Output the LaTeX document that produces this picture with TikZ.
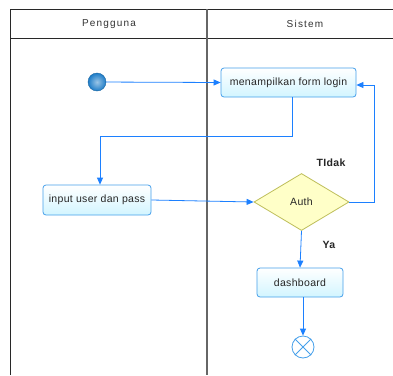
\documentclass[tikz,border=0pt]{standalone}
\usepackage{fontspec}
\setmainfont{Liberation Sans}[LetterSpace=3]
\usetikzlibrary{arrows.meta,shapes.geometric}
\definecolor{flow}{RGB}{28,128,255}
\definecolor{boxline}{RGB}{70,160,235}
\definecolor{boxfill}{RGB}{210,245,255}
\definecolor{glowc}{RGB}{200,232,255}
\definecolor{decline}{RGB}{190,190,90}
\definecolor{decfill}{RGB}{255,255,200}
\definecolor{lane}{RGB}{40,40,40}
\definecolor{startc}{RGB}{30,125,200}
\tikzset{
  actbox/.style={draw=boxline, line width=0.8pt, rounded corners=3pt,
    top color=white, bottom color=boxfill, text=black!85,
    font=\fontsize{10.5}{12}\selectfont, inner sep=0pt},
  decbox/.style={diamond, draw=decline, line width=0.8pt, fill=decfill,
    aspect=1.67, minimum width=95pt, minimum height=57pt, inner sep=0pt,
    font=\fontsize{10.5}{12}\selectfont, text=black!85},
  flowline/.style={draw=flow, line width=0.8pt,
    -{Triangle[length=7pt,width=6pt]}},
  guard/.style={font=\bfseries\fontsize{10.5}{12}\selectfont, text=black!85},
  header/.style={font=\fontsize{10}{12}\selectfont\addfontfeature{LetterSpace=12}, text=black!80}
}
% soft halo behind a region: stacked translucent rectangles
\newcommand{\halo}[4]{%
  \foreach \k in {0,...,7}{
    \fill[glowc, opacity=0.18]
      ({#1+\k*3pt},{#2+\k*3pt}) rectangle ({#3-\k*3pt},{#4-\k*3pt});
  }}
\begin{document}
\begin{tikzpicture}[x=1pt,y=-1pt]
\useasboundingbox (0,0) rectangle (393,375);
\fill[white] (0,0) rectangle (393,375);
\begin{scope}
\clip (0,0) rectangle (393,375);
% halos
\halo{38}{55}{185}{320}
\halo{215}{85}{385}{250}
\halo{235}{245}{380}{325}
% swimlane frame
\draw[lane, line width=0.7pt] (10,375) -- (10,9) -- (400,9);
\draw[lane, line width=0.7pt] (10,38) -- (400,38);
\draw[gray!80!black, line width=1.3pt] (207,9) -- (207,375);
\end{scope}
\node[header] (laneA) at (109,24) {Pengguna};
\node[header] (laneB) at (305,24) {Sistem};

% nodes
\node[circle, inner sep=0pt, minimum size=18pt, inner color=startc!45!white,
  outer color=startc, draw=startc!80!black, line width=0.4pt] (start) at (97,82) {};
\node[actbox, minimum width=135pt, minimum height=29pt] (form) at (288.5,82.5) {menampilkan form login};
\node[actbox, minimum width=108pt, minimum height=30pt] (input) at (97,200) {input user dan pass};
\node[decbox] (auth) at (301.5,202) {Auth};
\node[actbox, minimum width=86pt, minimum height=29pt] (dash) at (300,282.5) {dashboard};
\node[circle, draw=boxline, line width=0.8pt, minimum size=22pt, inner sep=0pt] (stop) at (303,347) {};
\draw[boxline, line width=0.8pt] (stop.north west) -- (stop.south east)
  (stop.north east) -- (stop.south west);

\node[guard] (tidak) at (331,163) {TIdak};
\node[guard] (ya) at (329,245) {Ya};

% flows
\coordinate (c1) at (292,136);
\coordinate (c2) at (100,136);
\coordinate (c3) at (374,202);
\coordinate (c4) at (374,85);
\draw[flowline] (start) -- (form.west);
\draw[flowline] (form.south -| c1) -- (c1) -- (c2) -- (input.north -| c2);
\draw[flowline] (input.east) -- (auth.west);
\draw[flowline] (auth.east) -- (c3) -- (c4) -- (c4 -| form.east);
\draw[flowline] (auth.south) -- (dash.north);
\draw[flowline] (dash.south -| stop) -- (stop.north);
\end{tikzpicture}
\end{document}
